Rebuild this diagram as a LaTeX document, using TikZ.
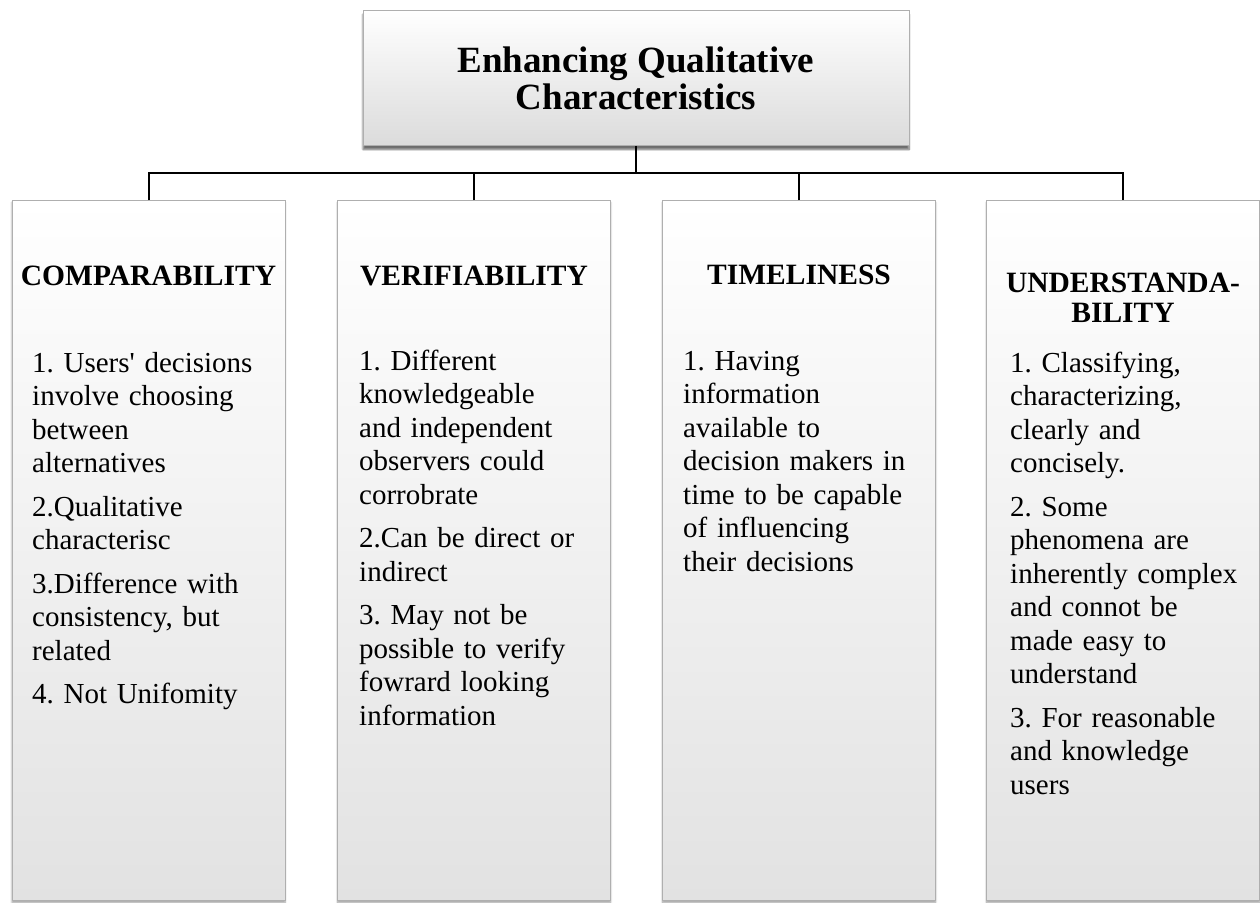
\documentclass[tikz,border=0pt]{standalone}
\usepackage{fontspec}
\setmainfont{Liberation Serif}
\usetikzlibrary{shadows.blur}

\definecolor{paneldark}{RGB}{226,226,226}
\definecolor{panelline}{RGB}{175,175,175}

\tikzset{
    panel/.style={draw=panelline, line width=0.8pt, top color=white, bottom color=paneldark,
        blur shadow={shadow xshift=0pt, shadow yshift=-2pt, shadow blur steps=6, shadow opacity=40},
        minimum width=273pt, minimum height=700pt, anchor=north, inner sep=0pt},
    heading/.style={font=\bfseries\fontsize{29.5}{30}\selectfont, text width=273pt, align=center, anchor=base, inner sep=0pt},
    body/.style={font=\frenchspacing\fontsize{29}{33.5}\selectfont, text width=250pt, align=left, anchor=base west, inner sep=0pt},
    wire/.style={line width=2pt}
}

\begin{document}
\begin{tikzpicture}[x=1pt,y=-1pt]
    \useasboundingbox (0,0) rectangle (1260,902);

    % top box
    \node[panel, minimum width=546pt, minimum height=135pt, bottom color=black!14,
          blur shadow={shadow xshift=0pt, shadow yshift=-4pt, shadow blur steps=8, shadow opacity=35},
          font=\bfseries\fontsize{37}{37}\selectfont, align=center] (title) at (636,10) {Enhancing Qualitative\\Characteristics};

    % the four columns
    \node[panel] (comp) at (148.5,200) {};
    \node[panel] (verif) at (474,200) {};
    \node[panel] (timel) at (799,200) {};
    \node[panel] (under) at (1123,200) {};

    % connectors
    \coordinate (bus) at (636,173);
    \draw[wire] (title.south) -- (bus);
    \draw[wire] (comp.north) |- (bus) -| (under.north);
    \draw[wire] (verif.north) -- (verif.north |- bus);
    \draw[wire] (timel.north) -- (timel.north |- bus);

    % headings
    \node[heading] (compHead) at (148.5,285) {COMPARABILITY};
    \node[heading] (verifHead) at (474,285) {VERIFIABILITY};
    \node[heading] (timelHead) at (799,284) {TIMELINESS};
    \node[heading] (underHead) at (1123,292) {UNDERSTANDA-\\BILITY};

    % column texts
    \node[body] (compText) at (32,372) {1. Users\textquotesingle{} decisions\\involve choosing\\between\\alternatives\\[10pt]
        2.Qualitative\\characterisc\\[10pt]
        3.Difference with\\consistency, but\\related\\[10pt]
        4. Not Unifomity};
    \node[body] (verifText) at (359,370) {1. Different\\knowledgeable\\and independent\\observers could\\corrobrate\\[10pt]
        2.Can be direct or\\indirect\\[10pt]
        3. May not be\\possible to verify\\fowrard looking\\information};
    \node[body] (timelText) at (683,370) {1. Having\\information\\available to\\decision makers in\\time to be capable\\of influencing\\their decisions};
    \node[body] (underText) at (1010,372) {1. Classifying,\\characterizing,\\clearly and\\concisely.\\[10pt]
        2. Some\\phenomena are\\inherently complex\\and connot be\\made easy to\\understand\\[10pt]
        3. For reasonable\\and knowledge\\users};
\end{tikzpicture}
\end{document}
